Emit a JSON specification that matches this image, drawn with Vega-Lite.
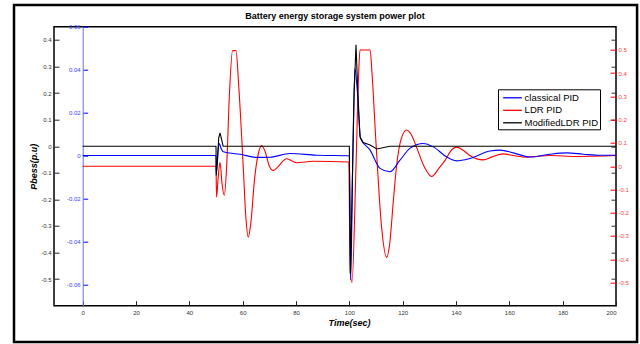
{
  "$schema": "https://vega.github.io/schema/vega-lite/v6.json",
  "width": 562,
  "height": 279,
  "autosize": "none",
  "padding": {"left": 54, "top": 26.7, "right": 24, "bottom": 38.3},
  "background": "white",
  "title": {
    "text": "Battery energy storage system power plot",
    "font": "Liberation Sans",
    "fontSize": 9,
    "fontWeight": "bold",
    "color": "black",
    "anchor": "middle",
    "frame": "group",
    "offset": -17.5
  },
  "datasets": {
    "frame": [{"id": "frame"}],
    "red": [
      {"t": 0, "v": 0, "series": "LDR PID"},
      {"t": 50, "v": 0, "series": "LDR PID"},
      {"t": 50.2, "v": -0.133, "series": "LDR PID"},
      {"t": 50.8, "v": -0.05, "series": "LDR PID"},
      {"t": 51.5, "v": 0.017, "series": "LDR PID"},
      {"t": 52.3, "v": -0.08, "series": "LDR PID"},
      {"t": 53.1, "v": -0.126, "series": "LDR PID"},
      {"t": 54, "v": 0.0, "series": "LDR PID"},
      {"t": 55, "v": 0.3, "series": "LDR PID"},
      {"t": 56.2, "v": 0.497, "series": "LDR PID"},
      {"t": 57.5, "v": 0.497, "series": "LDR PID"},
      {"t": 58.5, "v": 0.35, "series": "LDR PID"},
      {"t": 60.2, "v": 0, "series": "LDR PID"},
      {"t": 61.2, "v": -0.22, "series": "LDR PID"},
      {"t": 62.1, "v": -0.305, "series": "LDR PID"},
      {"t": 63, "v": -0.25, "series": "LDR PID"},
      {"t": 64.5, "v": -0.05, "series": "LDR PID"},
      {"t": 66, "v": 0.06, "series": "LDR PID"},
      {"t": 67.1, "v": 0.089, "series": "LDR PID"},
      {"t": 68.5, "v": 0.06, "series": "LDR PID"},
      {"t": 70, "v": 0.0, "series": "LDR PID"},
      {"t": 71.5, "v": -0.018, "series": "LDR PID"},
      {"t": 73, "v": -0.005, "series": "LDR PID"},
      {"t": 76.5, "v": 0.032, "series": "LDR PID"},
      {"t": 80.2, "v": 0.015, "series": "LDR PID"},
      {"t": 86.5, "v": 0.021, "series": "LDR PID"},
      {"t": 99.8, "v": 0.018, "series": "LDR PID"},
      {"t": 100.3, "v": -0.45, "series": "LDR PID"},
      {"t": 101, "v": -0.5, "series": "LDR PID"},
      {"t": 102.5, "v": 0.0, "series": "LDR PID"},
      {"t": 103.5, "v": 0.4, "series": "LDR PID"},
      {"t": 104, "v": 0.5, "series": "LDR PID"},
      {"t": 107.8, "v": 0.5, "series": "LDR PID"},
      {"t": 108.5, "v": 0.4, "series": "LDR PID"},
      {"t": 110, "v": 0.1, "series": "LDR PID"},
      {"t": 112, "v": -0.25, "series": "LDR PID"},
      {"t": 114, "v": -0.392, "series": "LDR PID"},
      {"t": 115.2, "v": -0.327, "series": "LDR PID"},
      {"t": 116.5, "v": -0.15, "series": "LDR PID"},
      {"t": 117.7, "v": 0.0, "series": "LDR PID"},
      {"t": 119.5, "v": 0.12, "series": "LDR PID"},
      {"t": 121.5, "v": 0.156, "series": "LDR PID"},
      {"t": 123.5, "v": 0.13, "series": "LDR PID"},
      {"t": 125.2, "v": 0.082, "series": "LDR PID"},
      {"t": 128, "v": 0.0, "series": "LDR PID"},
      {"t": 130.9, "v": -0.044, "series": "LDR PID"},
      {"t": 133.5, "v": -0.01, "series": "LDR PID"},
      {"t": 135.9, "v": 0.025, "series": "LDR PID"},
      {"t": 138, "v": 0.065, "series": "LDR PID"},
      {"t": 140.2, "v": 0.082, "series": "LDR PID"},
      {"t": 142.5, "v": 0.07, "series": "LDR PID"},
      {"t": 145.2, "v": 0.046, "series": "LDR PID"},
      {"t": 150.2, "v": 0.027, "series": "LDR PID"},
      {"t": 153.5, "v": 0.04, "series": "LDR PID"},
      {"t": 157.7, "v": 0.053, "series": "LDR PID"},
      {"t": 162, "v": 0.045, "series": "LDR PID"},
      {"t": 166.5, "v": 0.039, "series": "LDR PID"},
      {"t": 175.2, "v": 0.046, "series": "LDR PID"},
      {"t": 185.2, "v": 0.042, "series": "LDR PID"},
      {"t": 200, "v": 0.046, "series": "LDR PID"}
    ],
    "blue": [
      {"t": 0, "v": 0, "series": "classical PID"},
      {"t": 50, "v": 0, "series": "classical PID"},
      {"t": 50.1, "v": -0.008, "series": "classical PID"},
      {"t": 50.8, "v": 0.003, "series": "classical PID"},
      {"t": 51.2, "v": 0.0056, "series": "classical PID"},
      {"t": 52, "v": 0.003, "series": "classical PID"},
      {"t": 52.7, "v": 0.0017, "series": "classical PID"},
      {"t": 59, "v": 0.0006, "series": "classical PID"},
      {"t": 65.3, "v": -0.0009, "series": "classical PID"},
      {"t": 70.3, "v": -0.0008, "series": "classical PID"},
      {"t": 77.8, "v": 0.0009, "series": "classical PID"},
      {"t": 87.8, "v": 0.0001, "series": "classical PID"},
      {"t": 100, "v": -0.0001, "series": "classical PID"},
      {"t": 100.5, "v": -0.058, "series": "classical PID"},
      {"t": 101.3, "v": 0.0, "series": "classical PID"},
      {"t": 102.1, "v": 0.0405, "series": "classical PID"},
      {"t": 103, "v": 0.03, "series": "classical PID"},
      {"t": 104.2, "v": 0.0079, "series": "classical PID"},
      {"t": 107.8, "v": 0.0025, "series": "classical PID"},
      {"t": 111.5, "v": -0.006, "series": "classical PID"},
      {"t": 115.2, "v": -0.0076, "series": "classical PID"},
      {"t": 119, "v": -0.0022, "series": "classical PID"},
      {"t": 122.7, "v": 0.0033, "series": "classical PID"},
      {"t": 127.7, "v": 0.0056, "series": "classical PID"},
      {"t": 131.5, "v": 0.004, "series": "classical PID"},
      {"t": 136.5, "v": -0.0007, "series": "classical PID"},
      {"t": 140.2, "v": -0.0025, "series": "classical PID"},
      {"t": 145.2, "v": -0.0014, "series": "classical PID"},
      {"t": 152.7, "v": 0.0021, "series": "classical PID"},
      {"t": 156.5, "v": 0.0025, "series": "classical PID"},
      {"t": 161.5, "v": 0.0012, "series": "classical PID"},
      {"t": 167.7, "v": -0.0007, "series": "classical PID"},
      {"t": 175.2, "v": 0.0006, "series": "classical PID"},
      {"t": 181.5, "v": 0.0012, "series": "classical PID"},
      {"t": 187.7, "v": 0.0006, "series": "classical PID"},
      {"t": 194, "v": 0.0001, "series": "classical PID"},
      {"t": 200, "v": 0.0001, "series": "classical PID"}
    ],
    "black": [
      {"t": 0, "v": 0, "series": "ModifiedLDR PID"},
      {"t": 50, "v": 0, "series": "ModifiedLDR PID"},
      {"t": 50.1, "v": -0.11, "series": "ModifiedLDR PID"},
      {"t": 50.6, "v": -0.05, "series": "ModifiedLDR PID"},
      {"t": 51, "v": 0.03, "series": "ModifiedLDR PID"},
      {"t": 51.5, "v": 0.05, "series": "ModifiedLDR PID"},
      {"t": 52, "v": 0.03, "series": "ModifiedLDR PID"},
      {"t": 52.7, "v": 0, "series": "ModifiedLDR PID"},
      {"t": 100, "v": 0, "series": "ModifiedLDR PID"},
      {"t": 100.4, "v": -0.48, "series": "ModifiedLDR PID"},
      {"t": 101, "v": -0.2, "series": "ModifiedLDR PID"},
      {"t": 101.8, "v": 0.2, "series": "ModifiedLDR PID"},
      {"t": 102.5, "v": 0.382, "series": "ModifiedLDR PID"},
      {"t": 103.2, "v": 0.2, "series": "ModifiedLDR PID"},
      {"t": 104, "v": 0.036, "series": "ModifiedLDR PID"},
      {"t": 105.2, "v": 0.014, "series": "ModifiedLDR PID"},
      {"t": 107.8, "v": 0.005, "series": "ModifiedLDR PID"},
      {"t": 110.3, "v": -0.01, "series": "ModifiedLDR PID"},
      {"t": 115.2, "v": 0, "series": "ModifiedLDR PID"},
      {"t": 200, "v": 0, "series": "ModifiedLDR PID"}
    ]
  },
  "layer": [
    {
      "data": {"name": "frame"},
      "mark": {"type": "rect", "fill": "white", "fillOpacity": 0, "stroke": "black", "strokeWidth": 2.5},
      "encoding": {
        "x": {"datum": -25.75, "type": "quantitative", "scale": {"domain": [-10.75, 200], "nice": false, "zero": false}},
        "x2": {"datum": 207.9},
        "y": {"datum": 0.5317, "type": "quantitative", "scale": {"domain": [-0.6, 0.45], "nice": false, "zero": false},
          "axis": {"orient": "right", "title": null, "labels": false, "domain": false, "grid": false,
            "values": [-0.5, -0.4, -0.3, -0.2, -0.1, 0, 0.1, 0.2, 0.3, 0.4], "tickSize": -5, "tickColor": "#333", "tickWidth": 1}},
        "y2": {"datum": -0.7367}
      }
    },
    {
      "data": {"name": "red"},
      "mark": {"type": "line", "strokeWidth": 1.1, "interpolate": "monotone"},
      "encoding": {
        "x": {"field": "t", "type": "quantitative", "scale": {"domain": [-10.75, 200], "nice": false, "zero": false},
          "axis": {"title": "Time(sec)", "values": [0, 20, 40, 60, 80, 100, 120, 140, 160, 180, 200], "grid": false, "domain": false,
            "labelExpr": "toString(datum.value)",
            "tickSize": -5, "tickColor": "#222", "labelFontSize": 6, "labelColor": "#333", "labelFont": "Liberation Sans", "labelPadding": 8.5,
            "titleFont": "Liberation Sans", "titleFontSize": 9, "titleFontWeight": "bold", "titleFontStyle": "italic", "titleColor": "black",
            "titleX": 295, "titleY": 19.5, "titleBaseline": "alphabetic", "titleAlign": "center"}},
        "y": {"field": "v", "type": "quantitative", "scale": {"domain": [-0.6, 0.6], "nice": false, "zero": false},
          "axis": {"orient": "right", "title": null, "grid": false, "domain": false,
            "labelExpr": "toString(datum.value)",
            "values": [-0.5, -0.4, -0.3, -0.2, -0.1, 0, 0.1, 0.2, 0.3, 0.4, 0.5], "tickSize": -6, "tickColor": "red",
            "labelColor": "#ff4040", "labelFontSize": 6, "labelFont": "Liberation Sans", "labelPadding": 8}},
        "color": {"field": "series", "type": "nominal",
          "scale": {"domain": ["classical PID", "LDR PID", "ModifiedLDR PID"], "range": ["#0000ff", "#ff0000", "#000000"]},
          "legend": {"title": null, "orient": "none", "legendX": 444, "legendY": 62.6, "strokeColor": "black", "fillColor": "white",
            "padding": 2, "rowPadding": 1.5, "symbolType": "M-1.7,0H1.7", "symbolSize": 121, "symbolStrokeWidth": 1.3, "symbolOffset": 6,
            "labelFont": "Liberation Sans", "labelFontSize": 9.5, "labelColor": "black", "labelOffset": 5.6}}
      }
    },
    {
      "data": {"name": "blue"},
      "mark": {"type": "line", "strokeWidth": 1.1, "interpolate": "monotone"},
      "encoding": {
        "x": {"field": "t", "type": "quantitative", "scale": {"domain": [-10.75, 200], "nice": false, "zero": false}},
        "y": {"field": "v", "type": "quantitative", "scale": {"domain": [-0.07, 0.06], "nice": false, "zero": false},
          "axis": {"orient": "left", "offset": -28.7, "title": null, "grid": false, "domain": true, "domainColor": "#6a6aff", "domainWidth": 1,
            "labelExpr": "toString(datum.value)",
            "values": [-0.06, -0.04, -0.02, 0, 0.02, 0.04, 0.06], "tickSize": -5, "tickColor": "#0000ff",
            "labelColor": "#4040ff", "labelFontSize": 6, "labelFont": "Liberation Sans", "labelPadding": 7.5}},
        "color": {"field": "series", "type": "nominal"}
      }
    },
    {
      "data": {"name": "black"},
      "mark": {"type": "line", "strokeWidth": 1.1},
      "encoding": {
        "x": {"field": "t", "type": "quantitative", "scale": {"domain": [-10.75, 200], "nice": false, "zero": false}},
        "y": {"field": "v", "type": "quantitative", "scale": {"domain": [-0.6, 0.45], "nice": false, "zero": false},
          "axis": {"orient": "left", "title": "Pbess(p.u)", "grid": false, "domain": false,
            "labelExpr": "toString(datum.value)",
            "values": [-0.5, -0.4, -0.3, -0.2, -0.1, 0, 0.1, 0.2, 0.3, 0.4], "tickSize": -5, "tickColor": "#222",
            "labelColor": "#333", "labelFontSize": 6, "labelFont": "Liberation Sans", "labelPadding": 8,
            "titleFont": "Liberation Sans", "titleFontSize": 9, "titleFontWeight": "bold", "titleFontStyle": "italic", "titleColor": "black",
            "titleX": -21, "titleY": 139.5, "titleAngle": -90, "titleBaseline": "middle", "titleAlign": "center"}},
        "color": {"field": "series", "type": "nominal"}
      }
    }
  ],
  "resolve": {"scale": {"y": "independent"}, "axis": {"y": "independent"}},
  "config": {
    "view": {"stroke": "black", "strokeWidth": 1.5},
    "font": "Liberation Sans"
  }
}
